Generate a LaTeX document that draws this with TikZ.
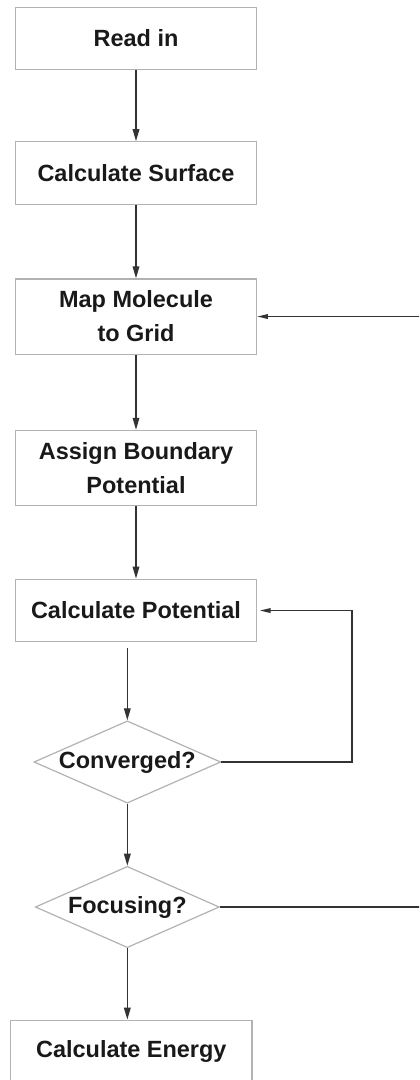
\documentclass[tikz,border=0pt]{standalone}
\usepackage{fontspec}
\setmainfont{Liberation Sans}
\usetikzlibrary{positioning, shapes.geometric, arrows.meta}

\begin{document}
\begin{tikzpicture}[node distance=108pt, on grid, auto,
    font=\fontsize{17.6pt}{25.5pt}\selectfont\bfseries,
    block/.style = {draw=gray!60, line width=0.9pt, minimum width=181pt,
        minimum height=47pt, inner ysep=9pt, align=center, text=black!90},
    decision/.style = {diamond, draw=gray!60, line width=0.9pt, aspect=2.27,
        inner sep=0pt, minimum width=138pt, minimum height=61pt, text=black!90},
    arrow/.style = {draw=black!80, line width=1pt, -{Triangle[length=9pt, width=5pt]}},
    loop/.style = {draw=black!80, line width=1pt, -{Triangle[length=8pt, width=3.5pt]}}]

    \clip (0,0) rectangle (314.25pt,-810pt);

    % Steps
    \node [block] (read) at (102pt,-28.9pt) {Read in};
    \node [block] (surface) [below=100.9pt of read] {Calculate Surface};
    \node [block] (map) [below=107.6pt of surface] {Map Molecule\\to Grid};
    \node [block] (assign) [below=113.6pt of map] {Assign Boundary\\Potential};
    \node [block] (calcpot) [below=106.9pt of assign] {Calculate Potential};
    \node [decision] (conv) [below=113.6pt of calcpot, xshift=-6.5pt] {Converged?};
    \node [decision] (focus) [below=108.75pt of conv] {Focusing?};
    \node [block] (energy) [below=108.4pt of focus, xshift=3pt] {Calculate Energy};
    \coordinate [right=131pt of map.east] (back);

    % Transitions
    \draw [arrow] (read) -- (surface);
    \draw [arrow] (surface) -- (map);
    \draw [arrow] (map) -- (assign);
    \draw [arrow] (assign) -- (calcpot);
    \draw [arrow, shorten <=4.5pt] (calcpot.south -| conv.north) -- (conv.north);
    \draw [arrow] (conv.south) -- (focus.north);
    \draw [arrow] (focus.south) -- (focus.south |- energy.north);

    % Loops back
    \draw [loop, shorten >=2pt] (conv.east) -- ++(98pt,0) |- (calcpot.east);
    \draw [loop] (focus.east) -| (back) -- (map.east);
\end{tikzpicture}
\end{document}
